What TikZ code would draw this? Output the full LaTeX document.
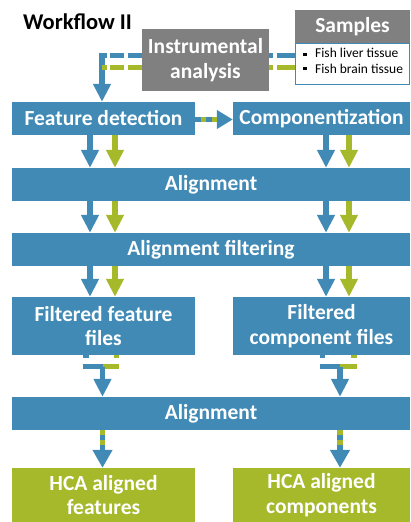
\documentclass[tikz,border=0pt]{standalone}
\usepackage{fontspec}
\setmainfont{Carlito}
\usetikzlibrary{arrows.meta,calc}
\definecolor{cblue}{RGB}{65,138,181}
\definecolor{cgreen}{RGB}{166,185,43}
\definecolor{cgray}{RGB}{128,128,128}

\begin{document}
\begin{tikzpicture}[x=1pt,y=-1pt,
  box/.style={fill=cblue,text=white,font=\bfseries\fontsize{21.5}{24.5}\selectfont,inner sep=0pt,align=center},
  graybox/.style={box,fill=cgray},
  hcabox/.style={box,fill=cgreen,minimum height=54pt},
  lbox/.style={minimum width=183pt},
  rbox/.style={minimum width=177pt},
  wbox/.style={minimum width=398pt},
  flow/.style={line width=5.5pt},
  tip/.style={-{Triangle[width=17pt,length=18pt]}},
  sidetip/.style={-{Triangle[width=18pt,length=16pt]}},
  hcatip/.style={-{Triangle[width=19pt,length=18pt]}},
  linkdash/.style={dash pattern=on 14pt off 3.5pt},
  bullet/.style={fill=black,inner sep=0pt,minimum size=3.5pt},
  item/.style={anchor=base west,inner sep=0pt,font=\fontsize{13.5}{15}\selectfont}
]
\useasboundingbox (0,0) rectangle (410,522);

% title
\node[anchor=base west,inner sep=0pt,font=\bfseries\fontsize{22.5}{24}\selectfont] (title) at (23,29) {Workflow II};

% instrument and samples
\node[graybox,minimum width=127pt,minimum height=62pt] (ia) at (205.5,60) {Instrumental\\analysis};
\node[graybox,minimum width=115pt,minimum height=33pt] (sh) at (352.5,26.5) {Samples};
\node[draw=cblue,line width=1pt,fill=white,minimum width=114pt,minimum height=41pt] (sl) at (352.5,63.5) {};
\node[bullet] (b1) at (305,54.3) {};
\node[bullet] (b2) at (305,68.7) {};
\node[item] (s1) at (315,57.3) {Fish liver tissue};
\node[item] (s2) at (315,73.3) {Fish brain tissue};

% processing boxes
\node[box,lbox,minimum height=33pt] (fd) at (103.5,118.5) {Feature detection};
\node[box,rbox,minimum height=33pt] (comp) at (321.5,118.5) {Componentization};
\node[box,wbox,minimum height=33pt] (al1) at (211,184.5) {Alignment};
\node[box,wbox,minimum height=33pt] (af) at (211,249.5) {Alignment filtering};
\node[box,lbox,minimum height=58pt] (ff) at (103.5,326) {Filtered feature\\files};
\node[box,rbox,minimum height=58pt] (fc) at (321.5,326) {Filtered\\component files};
\node[box,wbox,minimum height=33pt] (al2) at (211,413.5) {Alignment};
\node[hcabox,lbox] (hf) at (103.5,495) {HCA aligned\\features};
\node[hcabox,rbox] (hc) at (321.5,495) {HCA aligned\\components};

% column and row helpers
\coordinate (tb) at (0,55.5);
\coordinate (tg) at (0,67.5);
\coordinate (tx) at (102,0);
\coordinate (xb) at (90,0);
\coordinate (xg) at (115,0);
\coordinate (xB) at (326,0);
\coordinate (xG) at (349,0);
\coordinate (ey) at (0,366.5);
\coordinate (lb) at (86,0);
\coordinate (lg) at (116.5,0);
\coordinate (lm) at (102.5,0);
\coordinate (rb) at (322.5,0);
\coordinate (rg) at (354,0);
\coordinate (rm) at (340,0);
\coordinate (hy) at (0,119.5);

% instrument to samples
\draw[flow,cblue,dash pattern=on 3.5pt off 4.5pt on 40pt] (ia.east |- tb) -- (sl.west |- tb);
\draw[flow,cgreen,dash pattern=on 3.5pt off 4.5pt on 40pt] (ia.east |- tg) -- (sl.west |- tg);

% instrument to feature detection
\draw[flow,cblue,linkdash] (ia.west |- tb) -- (tx |- tb);
\draw[flow,cblue,tip] ($(tx |- tb)+(0,-2.75)$) -- (fd.north -| tx);
\draw[flow,cgreen,linkdash] (ia.west |- tg) -- (tx |- tg);

% feature detection to componentization
\draw[flow,cblue,sidetip] (fd.east |- hy) -- (comp.west |- hy);
\draw[flow,cgreen,dash pattern=on 5.5pt off 5.5pt,dash phase=5.5pt] (fd.east |- hy) -- ($(comp.west |- hy)+(-16,0)$);

% parallel blue and green arrows
\foreach \a/\b in {fd/al1,al1/af,af/ff}{
  \draw[flow,cblue,tip] (\a.south -| xb) -- (\b.north -| xb);
  \draw[flow,cgreen,tip] (\a.south -| xg) -- (\b.north -| xg);
}
\foreach \a/\b in {comp/al1,al1/af,af/fc}{
  \draw[flow,cblue,tip] (\a.south -| xB) -- (\b.north -| xB);
  \draw[flow,cgreen,tip] (\a.south -| xG) -- (\b.north -| xG);
}

% filtered files merge into the second alignment
\draw[flow,cblue,dash pattern=on 2.5pt off 6pt on 40pt] (ff.south -| lb) -- (lb |- ey) -- (lm |- ey);
\draw[flow,cgreen,dash pattern=on 2.5pt off 6pt on 40pt] (ff.south -| lg) -- (lg |- ey) -- (lm |- ey);
\draw[flow,cblue,tip] (lm |- ey) -- (al2.north -| lm);
\draw[flow,cblue,dash pattern=on 2.5pt off 6pt on 40pt] (fc.south -| rb) -- (rb |- ey) -- (rm |- ey);
\draw[flow,cgreen,dash pattern=on 2.5pt off 6pt on 40pt] (fc.south -| rg) -- (rg |- ey) -- (rm |- ey);
\draw[flow,cblue,tip] (rm |- ey) -- (al2.north -| rm);

% second alignment to HCA
\draw[flow,cblue,hcatip] (al2.south -| lm) -- (hf.north -| lm);
\draw[flow,cgreen,dash pattern=on 5pt off 5pt] (al2.south -| lm) -- ($(hf.north -| lm)+(0,-18)$);
\draw[flow,cblue,hcatip] (al2.south -| rm) -- (hc.north -| rm);
\draw[flow,cgreen,dash pattern=on 5pt off 5pt] (al2.south -| rm) -- ($(hc.north -| rm)+(0,-18)$);
\end{tikzpicture}
\end{document}
